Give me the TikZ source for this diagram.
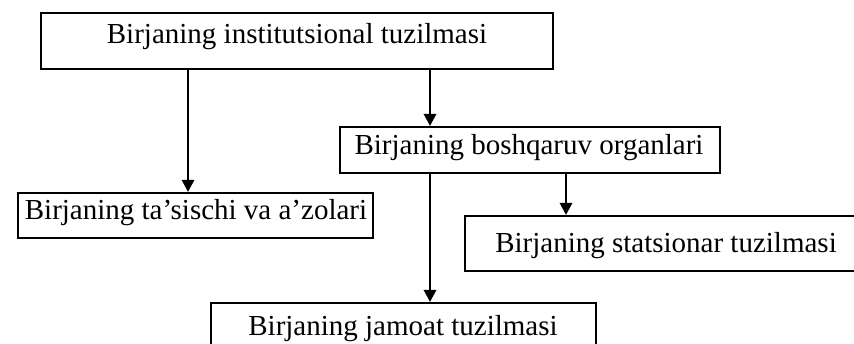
\documentclass[tikz,border=0pt]{standalone}
\usepackage{fontspec}
\setmainfont{Liberation Serif}
\usetikzlibrary{arrows.meta}
\begin{document}
\begin{tikzpicture}[x=1pt,y=-1pt,
 box/.style={draw, line width=1.8pt, rectangle, inner sep=0pt, anchor=north west},
 lbl/.style={anchor=base, inner sep=0pt, font=\fontsize{29}{34}\selectfont},
 arr/.style={line width=2.8pt, -{Triangle[width=12pt,length=12pt]}}]
\useasboundingbox (0,0) rectangle (854,344);
% boxes
\node[box, minimum width=512pt, minimum height=56pt] (top) at (40,12) {};
\node[box, minimum width=380pt, minimum height=46pt] (b2) at (339,126) {};
\node[box, minimum width=355pt, minimum height=45pt] (b3) at (17,192) {};
\node[box, minimum width=404pt, minimum height=55pt] (b4) at (464,215) {};
\node[box, minimum width=385pt, minimum height=60pt] (b5) at (210,302) {};
% texts
\node[lbl] (t1) at (297,44) {Birjaning institutsional tuzilmasi};
\node[lbl] (t2) at (529,155) {Birjaning boshqaruv organlari};
\node[lbl] (t3) at (196,220) {Birjaning ta’sischi va a’zolari};
\node[lbl] (t4) at (666,253) {Birjaning statsionar tuzilmasi};
\node[lbl] (t5) at (403,336) {Birjaning jamoat tuzilmasi};
% connector x positions
\coordinate (xa) at (188,0);
\coordinate (xb) at (430,0);
\coordinate (xc) at (566,0);
\draw[arr] (xa |- top.south) -- (xa |- b3.north);
\draw[arr] (xb |- top.south) -- (xb |- b2.north);
\draw[arr] (xc |- b2.south) -- (xc |- b4.north);
\draw[arr] (xb |- b2.south) -- (xb |- b5.north);
\end{tikzpicture}
\end{document}
